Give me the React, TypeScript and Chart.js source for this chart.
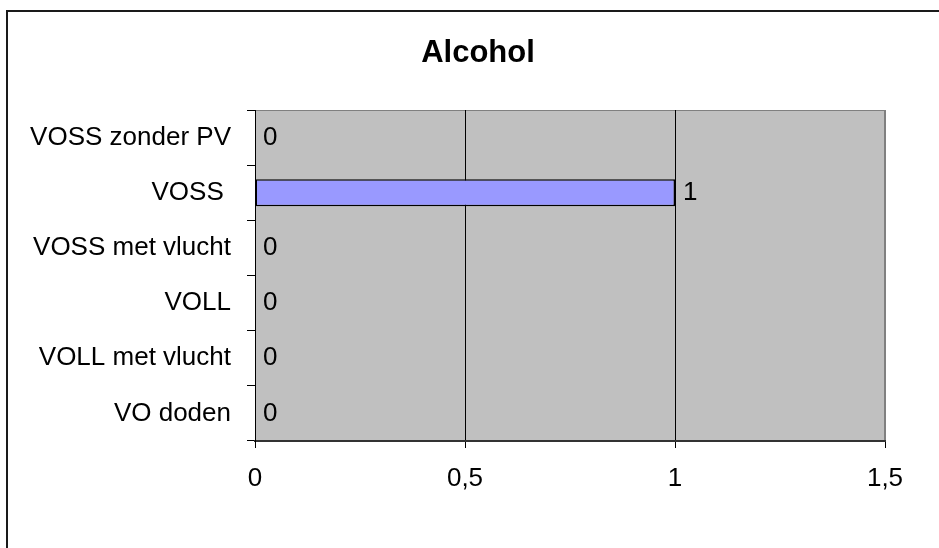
import React, { useEffect, useRef } from "react";
import { Chart, registerables } from "chart.js";

Chart.register(...registerables);

const categories: string[] = [
  "VOSS zonder PV",
  "VOSS ",
  "VOSS met vlucht",
  "VOLL",
  "VOLL met vlucht",
  "VO doden",
];
const values: number[] = [0, 1, 0, 0, 0, 0];
const xTickValues: number[] = [0, 0.5, 1, 1.5];
const xTickLabels: string[] = ["0", "0,5", "1", "1,5"];
const chartTitle = "Alcohol";

const FONT = '"Liberation Sans", Arial, sans-serif';

export default function App() {
  const ref = useRef<HTMLCanvasElement | null>(null);

  useEffect(() => {
    const canvas = ref.current;
    if (!canvas) return;

    const decor = {
      id: "decor",
      beforeDraw(chart: any) {
        const { ctx, chartArea: a } = chart;
        ctx.save();
        ctx.fillStyle = "#ffffff";
        ctx.fillRect(0, 0, chart.width, chart.height);
        ctx.fillStyle = "#C0C0C0";
        ctx.fillRect(a.left, a.top, a.right - a.left, a.bottom - a.top);
        ctx.strokeStyle = "#808080";
        ctx.lineWidth = 1;
        ctx.strokeRect(a.left + 0.5, a.top + 0.5, a.right - a.left - 1, a.bottom - a.top - 1);
        // outer frame
        ctx.strokeStyle = "#1a1a1a";
        ctx.lineWidth = 2;
        ctx.beginPath();
        ctx.moveTo(7, chart.height + 2);
        ctx.lineTo(7, 11);
        ctx.lineTo(chart.width + 2, 11);
        ctx.stroke();
        // title
        ctx.fillStyle = "#000";
        ctx.font = `bold 31px ${FONT}`;
        ctx.textAlign = "center";
        ctx.textBaseline = "alphabetic";
        ctx.fillText(chartTitle, 478, 61.5);
        ctx.restore();
      },
      afterDatasetsDraw(chart: any) {
        const { ctx } = chart;
        const meta = chart.getDatasetMeta(0);
        ctx.save();
        ctx.fillStyle = "#000";
        ctx.font = `26px ${FONT}`;
        ctx.textAlign = "left";
        ctx.textBaseline = "middle";
        meta.data.forEach((el: any, i: number) => {
          const v = values[i];
          ctx.fillText(String(v).replace(".", ","), el.x + 8, el.y);
        });
        ctx.restore();
      },
    };

    const chart = new Chart(canvas, {
      type: "bar",
      data: {
        labels: categories,
        datasets: [
          {
            data: values,
            backgroundColor: "#9999FF",
            borderColor: "#000000",
            borderWidth: 1.5,
            borderSkipped: false,
            categoryPercentage: 1,
            barPercentage: 0.49,
          },
        ],
      },
      options: {
        indexAxis: "y",
        animation: false,
        responsive: false,
        devicePixelRatio: 1,
        layout: { padding: { top: 110, right: 54, bottom: 0, left: 0 } },
        plugins: {
          legend: { display: false },
          title: { display: false },
          tooltip: { enabled: false },
        },
        scales: {
          x: {
            type: "linear",
            min: 0,
            max: 1.5,
            afterBuildTicks(scale: any) {
              scale.ticks = xTickValues.map((v) => ({ value: v }));
            },
            afterFit(scale: any) {
              scale.height = 107;
            },
            ticks: {
              color: "#000",
              font: { family: FONT, size: 26 },
              padding: 15,
              maxRotation: 0,
              autoSkip: false,
              callback: (v: any) => {
                const idx = xTickValues.indexOf(Number(v));
                return idx >= 0 ? xTickLabels[idx] : "";
              },
            },
            grid: {
              color: (c: any) => (c.tick && c.tick.value === 1.5 ? "#808080" : "#000000"),
              lineWidth: 1,
              drawTicks: true,
              tickLength: 7,
              tickColor: "#000",
            },
            border: { display: true, color: "#333333", width: 2 },
          },
          y: {
            afterFit(scale: any) {
              scale.width = 255;
            },
            ticks: {
              color: "#000",
              font: { family: FONT, size: 26 },
              padding: 16,
              autoSkip: false,
            },
            grid: {
              offset: true,
              drawOnChartArea: false,
              drawTicks: true,
              tickLength: 8,
              color: "#000",
            },
            border: { display: true, color: "#000", width: 1 },
          },
        },
      },
      plugins: [decor],
    } as any);

    return () => chart.destroy();
  }, []);

  return (
    <div style={{ position: "absolute", left: 0, top: 0, width: 939, height: 548, background: "#fff" }}>
      <canvas ref={ref} width={939} height={548} style={{ display: "block" }} />
    </div>
  );
}
